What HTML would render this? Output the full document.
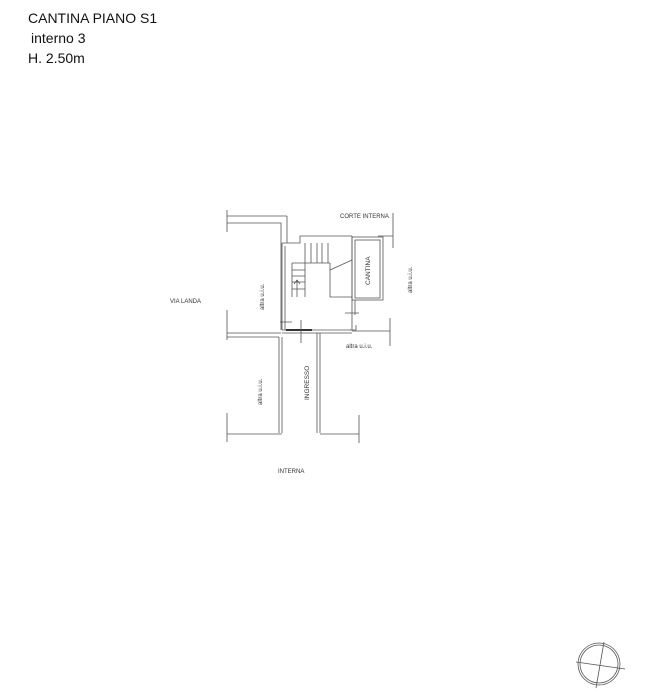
<!DOCTYPE html>
<html><head><meta charset="utf-8"><style>
body{margin:0;background:#fff;width:655px;height:690px;overflow:hidden;font-family:"Liberation Sans",sans-serif}
.t{position:absolute;color:#111;font-size:14px;line-height:16px}
</style></head><body>
<div class="t" style="left:28px;top:10px">CANTINA PIANO S1</div>
<div class="t" style="left:31px;top:30px">interno 3</div>
<div class="t" style="left:28px;top:50px">H. 2.50m</div>
<svg width="655" height="690" style="position:absolute;left:0;top:0" font-family="Liberation Sans" fill="none" stroke="#555" stroke-width="0.8">
<!-- top-left -->
<path d="M227 210V232 M227 216H287 M227 223H281V330 M287 216V243"/>
<!-- room -->
<path d="M282 243H300V236H352 M282 243V330 M285 246V330 M282 330H352 M282 333H352"/>
<path d="M286 330H312" stroke="#333" stroke-width="2"/>
<!-- stairs -->
<path d="M292 263V297 M292 263H305V243 M305 263V297 M292 270H305 M292 276H305 M292 282H305 M292 289H305 M305 263H330 M328 243V263 M311 243V263 M317 243V263 M322 243V263 M330 263V297H352 M330 270L352 260 M297 297V280 M294 284L297 280L300 284"/>
<!-- cantina -->
<rect x="352" y="237" width="31" height="63"/>
<rect x="355" y="240" width="25" height="58"/>
<path d="M352 236V330 M350 330H356V325 M378 236H393 M393 213V248 M355 300V315 M345 313H359 M280 322H292 M301 320V343"/>
<!-- bottom -->
<path d="M227 333H281 M227 337H279 M227 310V340 M352 331H390 M390 318V346 M279 337V433 M282 337V433 M317 333V433 M320 333V433 M227 434H282 M320 434H359 M227 413V442 M359 415V443"/>
<g fill="#333" stroke="none" font-size="6">
<text x="340" y="218">CORTE INTERNA</text>
<text x="170" y="303">VIA LANDA</text>
<text x="346" y="348">altra u.i.u.</text>
<text x="278" y="473">INTERNA</text>
<text transform="translate(264,310) rotate(-90)">altra u.i.u.</text>
<text transform="translate(262,405) rotate(-90)">altra u.i.u.</text>
<text transform="translate(412,293) rotate(-90)">altra u.i.u.</text>
<text transform="translate(309,400) rotate(-90)" font-size="6.5">INGRESSO</text>
<text transform="translate(370,285) rotate(-90)" font-size="6.5">CANTINA</text>
</g>
<!-- compass -->
<circle cx="599" cy="664" r="21"/><circle cx="599" cy="664" r="19"/>
<path d="M604 642L596 688 M576 662L625 669"/>
</svg>
</body></html>
